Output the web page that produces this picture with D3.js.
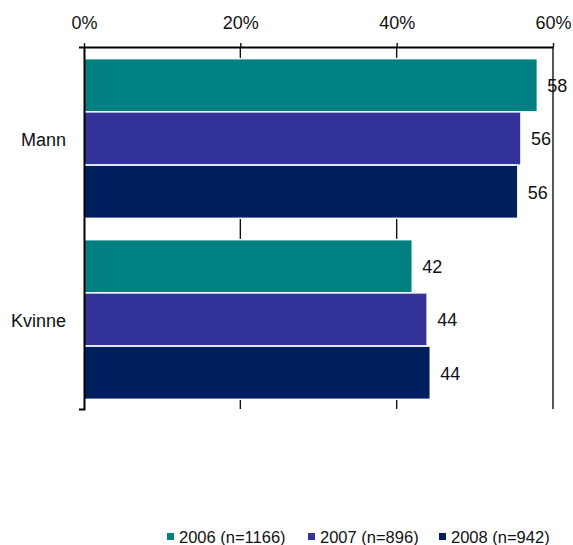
<!DOCTYPE html>
<html>
<head>
<meta charset="utf-8">
<script src="https://cdnjs.cloudflare.com/ajax/libs/d3/7.8.5/d3.min.js"></script>
<style>
  body { margin: 0; background: #fff; }
  svg { display: block; font-family: "Liberation Sans", Arial, sans-serif; }
  .lbl { font-size: 18px; fill: #111; }
  .legend text { font-size: 16.5px; fill: #111; }
</style>
</head>
<body>
<div class="viz"></div>
<script>
var categories = [ "Mann", "Kvinne" ],
    seriesNames = [ "2006 (n=1166)", "2007 (n=896)", "2008 (n=942)" ],
    values2006 = [ 58.0, 42.0 ],
    values2007 = [ 55.9, 43.9 ],
    values2008 = [ 55.5, 44.3 ],
    tickValues = [ 0, 20, 40, 60 ],
    colors = [ "#008080", "#333399", "#001f5f" ];

var width = 573,
    height = 545,
    margin = { top: 47, right: 20, bottom: 136, left: 84 };

var seriesValues = [ values2006, values2007, values2008 ];

var svg = d3.select( ".viz" )
    .append( "svg" )
    .attr( "width", width )
    .attr( "height", height );

var x = d3.scaleLinear()
    .domain( [ 0, 60 ] )
    .range( [ margin.left, 553 ] );

var y0 = d3.scaleBand()
    .domain( categories )
    .range( [ margin.top, height - margin.bottom ] );

var y1 = d3.scaleBand()
    .domain( d3.range( seriesNames.length ) )
    .range( [ 0, y0.bandwidth() ] )
    .paddingOuter( 0.2 );

// gridlines behind the bars
svg.selectAll( ".grid" )
    .data( tickValues.slice( 1 ) )
    .enter()
    .append( "line" )
    .attr( "class", "grid" )
    .attr( "x1", function( d ) { return x( d ); } )
    .attr( "x2", function( d ) { return x( d ); } )
    .attr( "y1", y0.range()[ 0 ] )
    .attr( "y2", y0.range()[ 1 ] )
    .attr( "stroke", "#111" )
    .attr( "stroke-width", 1.4 );

// bars
var groups = svg.selectAll( ".group" )
    .data( categories )
    .enter()
    .append( "g" )
    .attr( "class", "group" )
    .attr( "transform", function( d ) { return "translate(0," + ( y0( d ) + 1 ) + ")"; } );

groups.selectAll( "rect" )
    .data( function( d, i ) {
        return seriesValues.map( function( vals, s ) { return { s: s, v: vals[ i ] }; } );
    } )
    .enter()
    .append( "rect" )
    .attr( "x", x( 0 ) )
    .attr( "y", function( d ) { return y1( d.s ); } )
    .attr( "width", function( d ) { return x( d.v ) - x( 0 ); } )
    .attr( "height", y1.bandwidth() )
    .attr( "fill", function( d ) { return colors[ d.s ]; } )
    .attr( "stroke", "#fff" )
    .attr( "stroke-width", 1.5 );

groups.selectAll( ".lbl" )
    .data( function( d, i ) {
        return seriesValues.map( function( vals, s ) { return { s: s, v: vals[ i ] }; } );
    } )
    .enter()
    .append( "text" )
    .attr( "class", "lbl" )
    .attr( "x", function( d ) { return x( d.v ) + 10; } )
    .attr( "y", function( d ) { return y1( d.s ) + y1.bandwidth() / 2; } )
    .attr( "dy", "0.38em" )
    .text( function( d ) { return Math.round( d.v ); } );

// top value axis
var xAxis = svg.append( "g" )
    .attr( "transform", "translate(0," + margin.top + ")" )
    .call( d3.axisTop( x )
        .tickValues( tickValues )
        .tickSize( 4 )
        .tickSizeOuter( 0 )
        .tickPadding( 14 )
        .tickFormat( function( d ) { return d + "%"; } ) );
xAxis.select( ".domain" ).attr( "stroke", "#000" ).attr( "stroke-width", 2 );
xAxis.selectAll( ".tick line" ).attr( "stroke", "#111" ).attr( "stroke-width", 1.4 );
xAxis.selectAll( "text" )
    .attr( "font-size", 18 )
    .attr( "font-family", "Liberation Sans, Arial, sans-serif" )
    .attr( "fill", "#111" );

// category axis
var yAxis = svg.append( "g" )
    .attr( "transform", "translate(" + margin.left + ",0)" )
    .call( d3.axisLeft( y0 )
        .tickSize( 0 )
        .tickSizeOuter( 5 )
        .tickPadding( 18 ) );
yAxis.select( ".domain" ).attr( "stroke", "#000" ).attr( "stroke-width", 2 );
yAxis.selectAll( "text" )
    .attr( "font-size", 18 )
    .attr( "dy", "0.45em" )
    .attr( "font-family", "Liberation Sans, Arial, sans-serif" )
    .attr( "fill", "#111" );

// legend
var legendX = [ 167, 308, 439 ];
var legend = svg.selectAll( ".legend" )
    .data( seriesNames )
    .enter()
    .append( "g" )
    .attr( "class", "legend" )
    .attr( "transform", function( d, i ) { return "translate(" + legendX[ i ] + ",537)"; } );

legend.append( "rect" )
    .attr( "x", 0 )
    .attr( "y", -4 )
    .attr( "width", 7 )
    .attr( "height", 7 )
    .attr( "fill", function( d, i ) { return colors[ i ]; } );

legend.append( "text" )
    .attr( "x", 12 )
    .attr( "y", 0 )
    .attr( "dy", "0.35em" )
    .text( function( d ) { return d; } );
</script>
</body>
</html>
